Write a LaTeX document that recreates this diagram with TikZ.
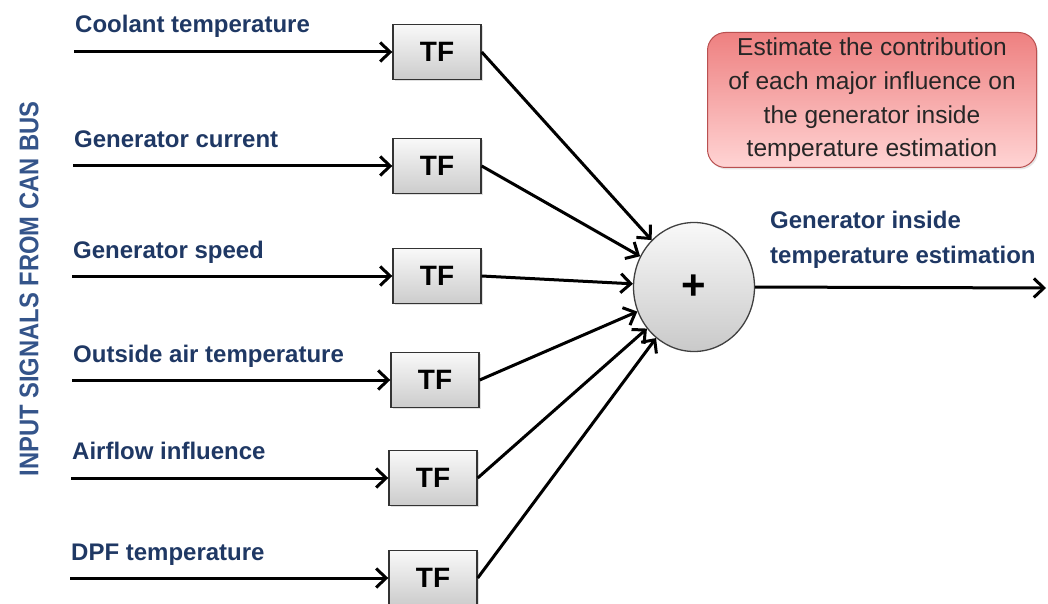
\documentclass[tikz,border=0pt]{standalone}
\usepackage{fontspec}
\setmainfont{Liberation Sans}
\usetikzlibrary{arrows.meta,shapes.geometric,shadows}
\definecolor{navy}{RGB}{31,56,100}
\definecolor{midblue}{RGB}{52,84,138}
\definecolor{pinktop}{RGB}{238,128,128}
\definecolor{pinkbot}{RGB}{255,212,212}
\definecolor{redline}{RGB}{185,80,80}
\begin{document}
\begin{tikzpicture}[x=1pt,y=-1pt,
  tfbox/.style={draw=black!80, line width=1.4pt, top color=gray!5, bottom color=gray!40,
    minimum width=88pt, minimum height=55pt, inner sep=0pt,
    font=\fontsize{28}{28}\selectfont\bfseries,
    drop shadow={shadow xshift=1.5pt, shadow yshift=-1.5pt, opacity=0.25}},
  sumnode/.style={ellipse, draw=black!75, line width=1.3pt, top color=gray!5, bottom color=gray!42,
    minimum width=121pt, minimum height=129pt, inner sep=0pt,
    font=\fontsize{42}{42}\selectfont\bfseries},
  notebox/.style={draw=redline, line width=1pt, rounded corners=18pt,
    top color=pinktop, bottom color=pinkbot,
    minimum width=329pt, minimum height=135pt, inner sep=0pt, align=center,
    text=black!85, font=\fontsize{24.5}{33.7}\selectfont,
    drop shadow={shadow xshift=1.5pt, shadow yshift=-2pt, opacity=0.2}},
  sig/.style={font=\fontsize{24}{35}\selectfont\bfseries, text=navy, inner sep=0pt},
  conn/.style={line width=3pt, -{Straight Barb[length=10pt,width=19pt]}},
]
\useasboundingbox (0,0) rectangle (1048,604);

% vertical title
\node[rotate=90, text=midblue, font=\fontsize{27}{27}\selectfont\bfseries, inner sep=0pt]
  (vtitle) at (29,289) {\scalebox{0.88}[1]{INPUT SIGNALS FROM CAN BUS}};

% transfer function boxes
\node[tfbox] (tf1) at (437,52)  {TF};
\node[tfbox] (tf2) at (437,166) {TF};
\node[tfbox] (tf3) at (437,276) {TF};
\node[tfbox] (tf4) at (435,380) {TF};
\node[tfbox] (tf5) at (433,478) {TF};
\node[tfbox] (tf6) at (433,578) {TF};

% signal start points
\coordinate (s1) at (74,52);
\coordinate (s2) at (73,166);
\coordinate (s3) at (72,276);
\coordinate (s4) at (72,380);
\coordinate (s5) at (71,478);
\coordinate (s6) at (70,578);

% signal labels
\node[sig, anchor=base west] (l1) at (75,33)  {Coolant temperature};
\node[sig, anchor=base west] (l2) at (74,148) {Generator current};
\node[sig, anchor=base west] (l3) at (73,258) {Generator speed};
\node[sig, anchor=base west] (l4) at (73,362) {Outside air temperature};
\node[sig, anchor=base west] (l5) at (72,459) {Airflow influence};
\node[sig, anchor=base west] (l6) at (71,560) {DPF temperature};

% summing junction
\node[sumnode] (sum) at (694,287) {+};

% output
\coordinate (out) at (1046,288);
\node[sig, anchor=north west, align=left] (outlbl) at (770,211) {Generator inside\\temperature estimation};

% note box
\node[notebox] (note) at (872,100) {Estimate the contribution\\of each major influence on\\the generator inside\\temperature estimation};

% connectors
\foreach \i in {1,...,6} {
  \draw[conn] (s\i) -- (tf\i);
  \draw[conn] (tf\i.east) -- (sum);
}
\draw[conn] (sum.east) -- (out);
\end{tikzpicture}
\end{document}
